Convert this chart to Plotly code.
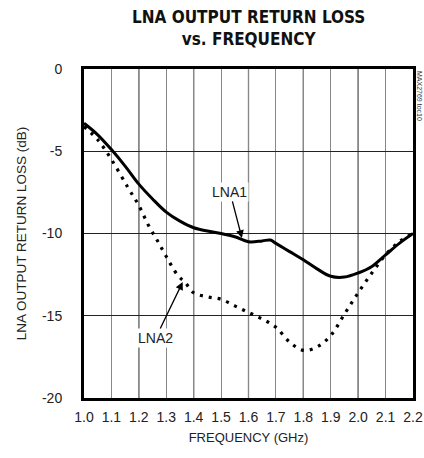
import plotly.graph_objects as go

freq_lna1 = [1.0, 1.05, 1.1, 1.15, 1.2, 1.25, 1.3, 1.35, 1.4, 1.45, 1.5, 1.55, 1.6, 1.65, 1.68, 1.7,
             1.75, 1.8, 1.85, 1.9, 1.95, 2.0, 2.05, 2.1, 2.15, 2.2]
rl_lna1 = [-3.3, -4.0, -4.9, -5.9, -7.0, -7.9, -8.7, -9.25, -9.65, -9.85, -10.0, -10.2, -10.5, -10.45,
           -10.4, -10.6, -11.1, -11.6, -12.15, -12.6, -12.65, -12.4, -12.0, -11.3, -10.6, -10.0]

freq_lna2 = [1.0, 1.05, 1.1, 1.16, 1.2, 1.235, 1.27, 1.3, 1.34, 1.37, 1.4, 1.45, 1.5, 1.55, 1.6, 1.65,
             1.7, 1.75, 1.8, 1.85, 1.9, 1.95, 2.0, 2.05, 2.1, 2.15, 2.2]
rl_lna2 = [-3.5, -4.3, -5.5, -7.2, -8.3, -9.5, -10.5, -11.4, -12.5, -13.0, -13.6, -13.85, -14.0, -14.4,
           -14.8, -15.2, -15.7, -16.6, -17.1, -16.9, -16.2, -14.9, -13.6, -12.4, -11.3, -10.5, -10.0]

x_ticks = [1.0, 1.1, 1.2, 1.3, 1.4, 1.5, 1.6, 1.7, 1.8, 1.9, 2.0, 2.1, 2.2]
x_labels = ["1.0", "1.1", "1.2", "1.3", "1.4", "1.5", "1.6", "1.7", "1.8", "1.9", "2.0", "2.1", "2.2"]
y_ticks = [0, -5, -10, -15, -20]
y_labels = ["0", "-5", "-10", "-15", "-20"]
dark_grid_x = [1.2, 1.4, 1.6, 1.8, 2.0]

SANS = "Liberation Sans, Arial, sans-serif"
BOLDC = "DejaVu Sans Condensed, sans-serif"

fig = go.Figure()
fig.add_trace(go.Scatter(x=freq_lna1, y=rl_lna1, mode="lines", line=dict(color="black", width=3, shape="spline"),
                         showlegend=False, hoverinfo="skip"))
fig.add_trace(go.Scatter(x=freq_lna2, y=rl_lna2, mode="lines",
                         line=dict(color="black", width=3.2, shape="spline", dash="3px,6px"),
                         showlegend=False, hoverinfo="skip"))

shapes = []
for gx in dark_grid_x:
    shapes.append(dict(type="line", xref="x", yref="paper", x0=gx, x1=gx, y0=0, y1=1,
                       line=dict(color="#222", width=1.2), layer="below"))

fig.update_layout(
    width=424, height=458,
    margin=dict(l=84, r=11, t=69, b=60),
    paper_bgcolor="white", plot_bgcolor="white",
    shapes=shapes,
    xaxis=dict(range=[1.0, 2.2], tickvals=x_ticks, ticktext=x_labels, showgrid=True, automargin=False,
               gridcolor="#888", gridwidth=1.2, zeroline=False, showline=True, linecolor="black",
               linewidth=3, mirror=True, ticks="", ticklabelstandoff=4,
               tickfont=dict(family=SANS, size=14, color="#222"),
               title=dict(text="FREQUENCY (GHz)", font=dict(family=SANS, size=13, color="#222"), standoff=10)),
    yaxis=dict(range=[-20, 0], tickvals=y_ticks, ticktext=y_labels, showgrid=True, automargin=False,
               gridcolor="#222", gridwidth=1.2, zeroline=False, showline=True, linecolor="black",
               linewidth=3, mirror=True, ticks="", ticklabelstandoff=16,
               tickfont=dict(family=SANS, size=14, color="#222"),
               title=dict(text="LNA OUTPUT RETURN LOSS (dB)", font=dict(family=SANS, size=13.5, color="#222"),
                          standoff=13)),
    annotations=[
        dict(text="<b>LNA OUTPUT RETURN LOSS</b><br><b>vs. FREQUENCY</b>", xref="paper", yref="paper",
             x=0.5, y=1, yshift=64, xanchor="center", yanchor="top", showarrow=False,
             font=dict(family=BOLDC, size=17, color="#111")),
        dict(text="MAX2769 toc10", xref="paper", yref="paper", x=1, y=1, xshift=7, xanchor="center",
             yanchor="top", textangle=90, showarrow=False, font=dict(family=SANS, size=7, color="#333")),
        dict(text="LNA1", x=1.576, y=-10.27, ax=-12, ay=-46, showarrow=True, arrowhead=2, arrowsize=1.2,
             arrowwidth=1.3, arrowcolor="black", bgcolor="white",
             font=dict(family=SANS, size=14, color="#222")),
        dict(text="LNA2", x=1.36, y=-12.95, ax=-27, ay=56, showarrow=True, arrowhead=2, arrowsize=1.2,
             arrowwidth=1.3, arrowcolor="black", bgcolor="white",
             font=dict(family=SANS, size=14, color="#222")),
    ],
)

fig.write_html("out.html", config={"displayModeBar": False},
               post_script="document.body.style.margin='0';")
